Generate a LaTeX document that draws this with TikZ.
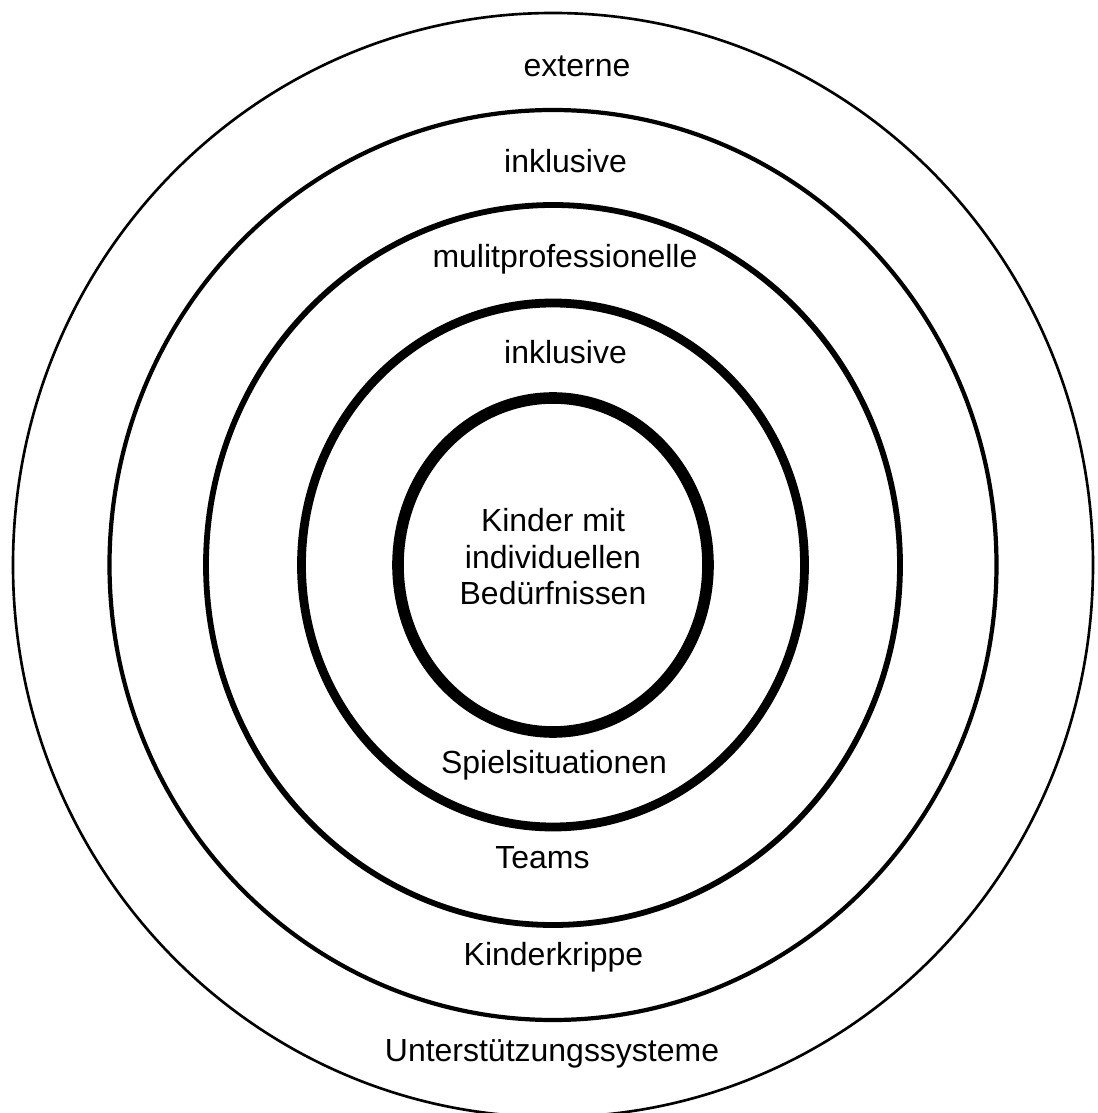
\documentclass[tikz,border=0pt]{standalone}
\usepackage{fontspec}
\setmainfont{Liberation Sans}

\begin{document}
\begin{tikzpicture}[
  ring/.style = {
    draw = black
  },
  lbl/.style = {
    font = \fontsize{18.2pt}{20.8pt}\selectfont,
    inner sep = 0pt,
    anchor = base
  }
]
  \useasboundingbox (-11.06, -10.96) rectangle (10.88, 11.30);

  \draw[ring, line width = 1.5pt] (0, 0) ellipse (10.80cm and 11.04cm);
  \draw[ring, line width = 2.4pt] (0, 0) ellipse (8.87cm and 9.10cm);
  \draw[ring, line width = 3.3pt] (0, 0) ellipse (6.94cm and 7.20cm);
  \draw[ring, line width = 5pt] (0, 0) ellipse (5.03cm and 5.24cm);
  \draw[ring, line width = 6.6pt] (0, 0) ellipse (3.10cm and 3.34cm);

  \node[lbl] (extern) at (0.48, 9.76) {externe};
  \node[lbl] (inkl1) at (0.25, 7.84) {inklusive};
  \node[lbl] (multi) at (0.24, 5.94) {mulitprofessionelle};
  \node[lbl] (inkl2) at (0.25, 4.02) {inklusive};
  \node[lbl, anchor = center, align = center] (kinder) at (0, 0.16)
    {Kinder mit\\individuellen\\Bedürfnissen};
  \node[lbl] (spiel) at (0.02, -4.16) {Spielsituationen};
  \node[lbl] (teams) at (-0.21, -6.06) {Teams};
  \node[lbl] (krippe) at (0.01, -8.00) {Kinderkrippe};
  \node[lbl] (system) at (-0.02, -9.92) {Unterstützungssysteme};
\end{tikzpicture}
\end{document}
